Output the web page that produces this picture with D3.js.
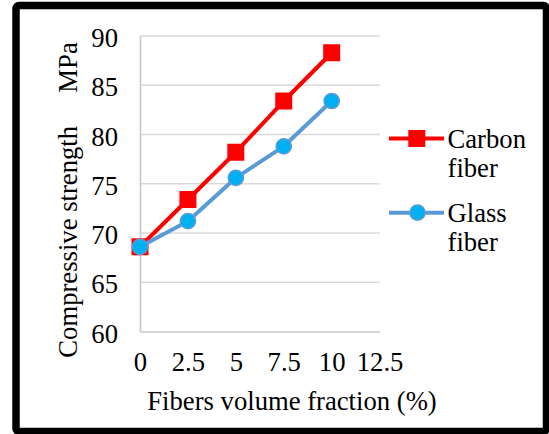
<!DOCTYPE html>
<html>
<head>
<meta charset="utf-8">
<script src="https://cdn.jsdelivr.net/npm/d3@7"></script>
<style>
  html, body { margin: 0; padding: 0; background: #fff; }
  svg { display: block; }
  text { font-family: "Liberation Serif", "Times New Roman", serif; fill: #000; }
</style>
</head>
<body>
<svg id="chart" width="549" height="434" font-family="Liberation Serif, serif"></svg>
<script>
const fractions = [0, 2.5, 5, 7.5, 10];
const carbonFiber = [68.6, 73.4, 78.2, 83.4, 88.3];
const glassFiber = [68.6, 71.2, 75.6, 78.8, 83.4];
const xTicks = [0, 2.5, 5, 7.5, 10, 12.5];
const yTicks = [60, 65, 70, 75, 80, 85, 90];
const seriesNames = [["Carbon", "fiber"], ["Glass", "fiber"]];
const xTitle = "Fibers volume fraction (%)";
const yTitle = "Compressive strength     MPa";

const svg = d3.select("#chart");
const FS = 26.67;
const FF = "Liberation Serif, Times New Roman, serif";

// outer frame
svg.append("rect")
  .attr("x", 16).attr("y", 5.5)
  .attr("width", 546.5 - 16).attr("height", 431.5 - 5.5)
  .attr("rx", 3)
  .attr("fill", "none").attr("stroke", "#000").attr("stroke-width", 7.5);

const x = d3.scaleLinear().domain([0, 12.5]).range([140, 379.6]);
const y = d3.scaleLinear().domain([60, 90]).range([331.5, 36]);

// gridlines
svg.append("g").selectAll("line")
  .data(yTicks.filter(v => v > 60))
  .join("line")
  .attr("x1", x(0)).attr("x2", x(12.5))
  .attr("y1", d => y(d)).attr("y2", d => y(d))
  .attr("stroke", "#d9d9d9").attr("stroke-width", 1.4);

// axes
const yAxis = d3.axisLeft(y).tickValues(yTicks).tickSize(0).tickPadding(22).tickFormat(d3.format("d"));
const gy = svg.append("g").attr("transform", `translate(${x(0)},0)`).call(yAxis)
  .attr("font-family", FF).attr("font-size", FS);
gy.select(".domain").attr("stroke", "#c8c8c8").attr("stroke-width", 1.6);
gy.selectAll("text").attr("dy", "0.4em").attr("fill", "#000");

const xAxis = d3.axisBottom(x).tickValues(xTicks).tickSize(0).tickPadding(21).tickFormat(d => String(d));
const gx = svg.append("g").attr("transform", `translate(0,${y(60)})`).call(xAxis)
  .attr("font-family", FF).attr("font-size", FS);
gx.select(".domain").attr("stroke", "#c8c8c8").attr("stroke-width", 1.6);
gx.selectAll("text").attr("dy", "0.71em").attr("fill", "#000");

// axis titles
svg.append("text")
  .attr("x", 292).attr("y", 410)
  .attr("text-anchor", "middle")
  .attr("font-family", FF)
  .attr("font-size", FS)
  .text(xTitle);

svg.append("text")
  .attr("transform", "translate(77,200) rotate(-90)")
  .attr("text-anchor", "middle")
  .attr("font-family", FF)
  .attr("font-size", FS)
  .style("white-space", "pre")
  .attr("xml:space", "preserve")
  .text(yTitle);

const line = d3.line().x((d, i) => x(fractions[i])).y(d => y(d));

// carbon series
svg.append("path").datum(carbonFiber)
  .attr("d", line).attr("fill", "none")
  .attr("stroke", "#ff0000").attr("stroke-width", 4).attr("stroke-linejoin", "round");
const sq = 17;
svg.append("g").selectAll("rect").data(carbonFiber).join("rect")
  .attr("x", (d, i) => x(fractions[i]) - sq / 2)
  .attr("y", d => y(d) - sq / 2)
  .attr("width", sq).attr("height", sq)
  .attr("fill", "#ff0000");

// glass series
svg.append("path").datum(glassFiber)
  .attr("d", line).attr("fill", "none")
  .attr("stroke", "#5b9bd5").attr("stroke-width", 4).attr("stroke-linejoin", "round");
svg.append("g").selectAll("circle").data(glassFiber).join("circle")
  .attr("cx", (d, i) => x(fractions[i]))
  .attr("cy", d => y(d))
  .attr("r", 7.6)
  .attr("fill", "#00b0f0")
  .attr("stroke", "#5b9bd5").attr("stroke-width", 1.5);

// legend
const legendY = [138.5, 212.7];
const lg = svg.append("g");
seriesNames.forEach((name, k) => {
  const ly = legendY[k];
  const color = k === 0 ? "#ff0000" : "#5b9bd5";
  lg.append("line").attr("x1", 389).attr("x2", 444).attr("y1", ly).attr("y2", ly)
    .attr("stroke", color).attr("stroke-width", 4);
  if (k === 0) {
    lg.append("rect").attr("x", 416.8 - sq / 2).attr("y", ly - sq / 2)
      .attr("width", sq).attr("height", sq).attr("fill", "#ff0000");
  } else {
    lg.append("circle").attr("cx", 417.5).attr("cy", ly).attr("r", 7.6)
      .attr("fill", "#00b0f0").attr("stroke", "#5b9bd5").attr("stroke-width", 1.5);
  }
  const t = lg.append("text").attr("x", 447.5).attr("y", ly + 9)
    .attr("font-family", FF).attr("font-size", FS);
  t.append("tspan").attr("x", 447.5).text(name[0]);
  t.append("tspan").attr("x", 447.5).attr("dy", 29.5).text(name[1]);
});
</script>
</body>
</html>
